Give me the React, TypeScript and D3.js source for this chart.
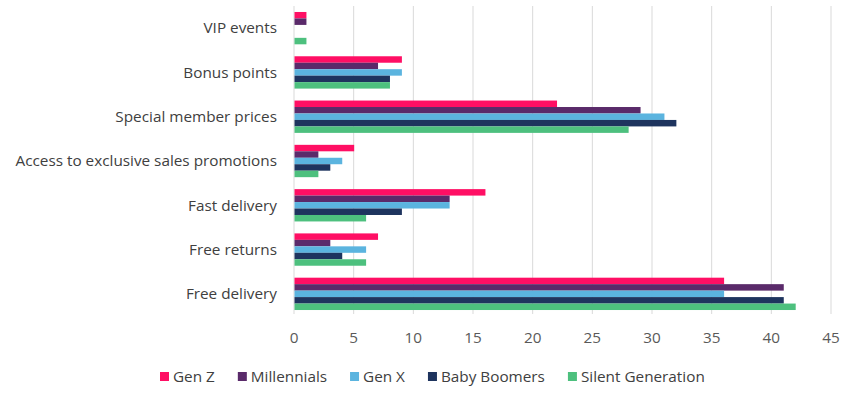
import * as d3 from "d3";
import { useEffect, useRef } from "react";

const categories = [
  "VIP events",
  "Bonus points",
  "Special member prices",
  "Access to exclusive sales promotions",
  "Fast delivery",
  "Free returns",
  "Free delivery",
];
const seriesNames = ["Gen Z", "Millennials", "Gen X", "Baby Boomers", "Silent Generation"];
const genZ = [1, 9, 22, 5, 16, 7, 36];
const millennials = [1, 7, 29, 2, 13, 3, 41];
const genX = [0, 9, 31, 4, 13, 6, 36];
const babyBoomers = [0, 8, 32, 3, 9, 4, 41];
const silentGen = [1, 8, 28, 2, 6, 6, 42];
const xTicks = [0, 5, 10, 15, 20, 25, 30, 35, 40, 45];
const colors = ["#ff0f64", "#5a2a6a", "#5bb4df", "#1e345e", "#4dc07e"];

const W = 850;
const H = 393;

export default function App() {
  const ref = useRef<SVGSVGElement | null>(null);

  useEffect(() => {
    if (!ref.current) return;
    const svg = d3.select(ref.current);
    svg.selectAll("*").remove();

    const font = "'Open Sans', sans-serif";
    const fs = "15.3px";
    const values = [genZ, millennials, genX, babyBoomers, silentGen];

    const x = d3.scaleLinear().domain([0, 45]).range([294, 831]);
    const y = d3
      .scaleBand<string>()
      .domain(categories)
      .range([6, 316])
      .paddingInner(0.27)
      .paddingOuter(0.135);
    const ySub = d3
      .scaleBand<string>()
      .domain(seriesNames)
      .range([0, y.bandwidth()]);

    // gridlines
    svg
      .append("g")
      .selectAll("line")
      .data(xTicks)
      .join("line")
      .attr("x1", (d) => x(d))
      .attr("x2", (d) => x(d))
      .attr("y1", 6)
      .attr("y2", 314)
      .attr("stroke", "#d9d9d9")
      .attr("stroke-width", 1);

    // bars
    seriesNames.forEach((s, si) => {
      svg
        .append("g")
        .selectAll("rect")
        .data(categories)
        .join("rect")
        .attr("x", x(0) + 0.5)
        .attr("y", (c) => (y(c) ?? 0) + (ySub(s) ?? 0))
        .attr("width", (c, i) => Math.max(0, x(values[si][i]) - x(0)))
        .attr("height", ySub.bandwidth())
        .attr("fill", colors[si]);
    });

    // category labels
    svg
      .append("g")
      .selectAll("text")
      .data(categories)
      .join("text")
      .attr("x", 277)
      .attr("y", (c) => (y(c) ?? 0) + y.bandwidth() / 2)
      .attr("dy", "0.35em")
      .attr("text-anchor", "end")
      .attr("fill", "#404040")
      .style("font-family", font)
      .style("font-size", fs)
      .text((c) => c);

    // x tick labels
    svg
      .append("g")
      .selectAll("text")
      .data(xTicks)
      .join("text")
      .attr("x", (d) => x(d))
      .attr("y", 338)
      .attr("dy", "0.35em")
      .attr("text-anchor", "middle")
      .attr("fill", "#595959")
      .style("font-family", font)
      .style("font-size", fs)
      .text((d) => String(d));

    // legend
    const legend = svg.append("g");
    let lx = 160;
    seriesNames.forEach((s, si) => {
      legend
        .append("rect")
        .attr("x", lx)
        .attr("y", 372)
        .attr("width", 9)
        .attr("height", 9)
        .attr("fill", colors[si]);
      const t = legend
        .append("text")
        .attr("x", lx + 13)
        .attr("y", 377)
        .attr("dy", "0.35em")
        .attr("fill", "#404040")
        .style("font-family", font)
        .style("font-size", fs)
        .text(s);
      const tw = (t.node() as SVGTextElement).getComputedTextLength();
      lx += 13 + tw + 23;
    });
  }, []);

  return (
    <svg
      ref={ref}
      width={W}
      height={H}
      style={{ position: "absolute", left: 0, top: 0, background: "#fff" }}
    />
  );
}
